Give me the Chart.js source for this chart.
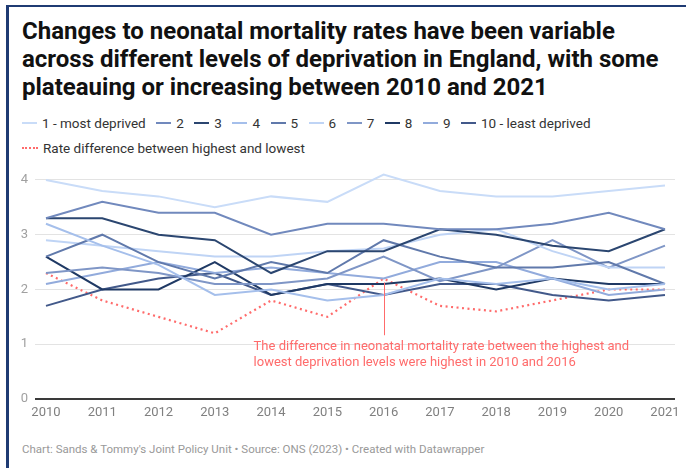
<!DOCTYPE html>
<html>
<head>
<meta charset="utf-8">
<script src="https://cdn.jsdelivr.net/npm/chart.js@4/dist/chart.umd.min.js"></script>
<style>
  html, body { margin: 0; padding: 0; background: #fff; }
  body { width: 686px; height: 468px; position: relative; overflow: hidden; font-family: Roboto, "Noto Sans", sans-serif; }
  #bl { position: absolute; left: 6px; top: 5px; width: 3px; height: 470px; background: #1f3b73; }
  #bt { position: absolute; left: 6px; top: 5px; width: 690px; height: 2px; background: #1f3b73; }
  #title { position: absolute; left: 22px; top: 17px; font-weight: 700; font-size: 24px; line-height: 28px; color: #111; white-space: nowrap; }
  .legrow { position: absolute; left: 22px; font-size: 13.5px; color: #333; white-space: nowrap; display: flex; align-items: center; }
  .item { display: flex; align-items: center; margin-right: 10.5px; }
  .sw { width: 15px; height: 2px; margin-right: 5px; }
  .dot { width: 16px; height: 0; border-top: 2px dotted #ff6b6b; margin-right: 5px; }
  #footer { position: absolute; left: 22px; top: 442px; font-size: 11.5px; color: #999; white-space: nowrap; }
  canvas { position: absolute; left: 0; top: 169px; }
</style>
</head>
<body>
<div id="bl"></div><div id="bt"></div>
<div id="title">Changes to neonatal mortality rates have been variable<br>across different levels of deprivation in England, with some<br>plateauing or increasing between 2010 and 2021</div>
<div class="legrow" id="leg1" style="top:115px;"></div>
<div class="legrow" id="leg2" style="top:140px;"><div class="item"><div class="dot"></div><span>Rate difference between highest and lowest</span></div></div>
<div id="footer">Chart: Sands &amp; Tommy's Joint Policy Unit • Source: ONS (2023) • Created with Datawrapper</div>
<canvas id="c" width="686" height="260"></canvas>
<script>
const years = [2010, 2011, 2012, 2013, 2014, 2015, 2016, 2017, 2018, 2019, 2020, 2021];
const seriesNames = ["1 - most deprived", "2", "3", "4", "5", "6", "7", "8", "9", "10 - least deprived"];
const s1  = [4.0, 3.8, 3.7, 3.5, 3.7, 3.6, 4.1, 3.8, 3.7, 3.7, 3.8, 3.9];
const s2  = [3.3, 3.6, 3.4, 3.4, 3.0, 3.2, 3.2, 3.1, 3.1, 3.2, 3.4, 3.1];
const s3  = [3.3, 3.3, 3.0, 2.9, 2.3, 2.7, 2.7, 3.1, 3.0, 2.8, 2.7, 3.1];
const s4  = [3.2, 2.8, 2.45, 1.9, 2.0, 1.8, 1.9, 2.2, 2.1, 2.2, 2.0, 2.1];
const s5  = [2.6, 3.0, 2.5, 2.2, 2.5, 2.3, 2.9, 2.6, 2.4, 2.4, 2.5, 2.1];
const s6  = [2.9, 2.8, 2.7, 2.6, 2.6, 2.7, 2.75, 3.0, 3.1, 2.7, 2.4, 2.4];
const s7  = [2.3, 2.4, 2.3, 2.1, 2.1, 2.2, 2.6, 2.15, 2.4, 2.9, 2.4, 2.8];
const s8  = [2.6, 2.0, 2.0, 2.5, 1.9, 2.1, 2.1, 2.2, 2.0, 2.2, 2.1, 2.1];
const s9  = [2.1, 2.3, 2.5, 2.3, 2.4, 2.3, 2.2, 2.5, 2.5, 2.2, 1.9, 2.0];
const s10 = [1.7, 2.0, 2.2, 2.3, 1.9, 2.1, 1.9, 2.1, 2.1, 1.9, 1.8, 1.9];
const rateDiff = [2.3, 1.8, 1.5, 1.2, 1.8, 1.5, 2.2, 1.7, 1.6, 1.8, 2.0, 2.0];
const yTicks = [0, 1, 2, 3, 4];
const diffLabel = "Rate difference between highest and lowest";
const noteLines = ["The difference in neonatal mortality rate between the highest and", "lowest deprivation levels were highest in 2010 and 2016"];
const noteYear = 2016;

const allSeries = [s1, s2, s3, s4, s5, s6, s7, s8, s9, s10];
const colors = ["#c9dcf8", "#7189bd", "#2b4670", "#a5bfeb", "#6079ab", "#bfd4f5", "#7f96c6", "#1f3964", "#92abdc", "#42598a"];
const red = "#ff6b6b";

const leg1 = document.getElementById('leg1');
seriesNames.forEach((n, i) => {
  const it = document.createElement('div'); it.className = 'item';
  it.innerHTML = '<div class="sw" style="background:' + colors[i] + '"></div><span>' + n + '</span>';
  leg1.appendChild(it);
});

const toPts = arr => arr.map((v, i) => ({ x: years[i], y: v }));
const datasets = allSeries.map((arr, i) => ({
  label: seriesNames[i], data: toPts(arr), borderColor: colors[i], borderWidth: 2,
  pointRadius: 0, tension: 0, fill: false
}));
datasets.push({ label: diffLabel, data: toPts(rateDiff), borderColor: red, borderWidth: 2.2,
  borderDash: [2, 3.5], borderCapStyle: 'butt', pointRadius: 0, tension: 0, fill: false });

const notePlugin = {
  id: 'note',
  afterDatasetsDraw(chart) {
    const { ctx, scales: { x, y } } = chart;
    const idx = years.indexOf(noteYear);
    const px = x.getPixelForValue(noteYear);
    const top = y.getPixelForValue(rateDiff[idx]) + 4;
    const bot = y.getPixelForValue(1) - 9;
    ctx.save();
    ctx.strokeStyle = red; ctx.lineWidth = 1;
    ctx.beginPath(); ctx.moveTo(Math.round(px) + 0.5, top); ctx.lineTo(Math.round(px) + 0.5, bot); ctx.stroke();
    ctx.fillStyle = red; ctx.font = '13px Roboto'; ctx.textBaseline = 'middle'; ctx.textAlign = 'left';
    const tx = px - 130;
    ctx.fillText(noteLines[0], tx, bot + 12);
    ctx.fillText(noteLines[1], tx, bot + 28);
    ctx.restore();
  }
};

new Chart(document.getElementById('c'), {
  type: 'line',
  data: { datasets },
  options: {
    responsive: false, animation: false, devicePixelRatio: 1,
    layout: { padding: { left: 0, right: 11, top: 0, bottom: 0 } },
    plugins: { legend: { display: false }, tooltip: { enabled: false } },
    scales: {
      x: {
        type: 'linear', min: 2009.805, max: 2021.178,
        afterBuildTicks: s => { s.ticks = years.map(v => ({ value: v })); },
        afterFit: s => { s.height = 30; s.paddingLeft = 0; s.paddingRight = 0; },
        grid: { display: false, drawTicks: false }, border: { display: false },
        ticks: { padding: 6, color: '#808080', font: { family: 'Roboto', size: 13 }, callback: v => String(v), maxRotation: 0, autoSkip: false }
      },
      y: {
        min: 0, max: 4.2,
        afterBuildTicks: s => { s.ticks = yTicks.map(v => ({ value: v })); },
        afterFit: s => { s.width = 35; s.paddingTop = 0; s.paddingBottom = 0; },
        grid: { drawTicks: false, color: c => c.tick && c.tick.value === 0 ? '#3a3a3a' : '#e3e3e3', lineWidth: c => c.tick && c.tick.value === 0 ? 2 : 1 },
        border: { display: false },
        ticks: { padding: 7, color: '#a0a0a0', font: { family: 'Roboto', size: 13 } }
      }
    }
  },
  plugins: [notePlugin]
});
</script>
</body>
</html>
